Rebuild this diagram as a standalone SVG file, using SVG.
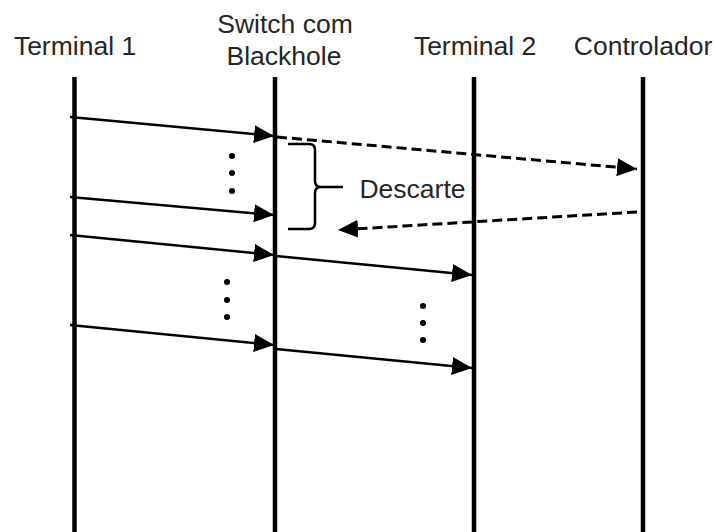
<svg xmlns="http://www.w3.org/2000/svg" width="716" height="532" viewBox="0 0 716 532">
<style>
.lbl{font-family:"Liberation Sans",Arial,sans-serif;font-size:26.5px;fill:#262626;text-anchor:middle}
.life{stroke:#000;stroke-width:4.5;fill:none}
.msg{stroke:#000;stroke-width:2.5;fill:none;marker-end:url(#ah)}
.dash{stroke:#000;stroke-width:3;fill:none;stroke-dasharray:10 5;marker-end:url(#ah)}
.dot{fill:#000}
</style>
<defs>
<marker id="ah" viewBox="0 0 20 18" markerWidth="20" markerHeight="18" markerUnits="userSpaceOnUse" refX="20" refY="9" orient="auto">
<path d="M0,0 L20,9 L0,18 z" fill="#000"/>
</marker>
</defs>
<rect width="716" height="532" fill="#fff"/>
<g id="terminal1">
<text class="lbl" x="75" y="55">Terminal 1</text>
<line class="life" x1="74.5" y1="77" x2="74.5" y2="532"/>
</g>
<g id="switch">
<text class="lbl" x="285" y="33">Switch com</text>
<text class="lbl" x="284" y="65">Blackhole</text>
<line class="life" x1="275" y1="77" x2="275" y2="532"/>
</g>
<g id="terminal2">
<text class="lbl" x="475" y="55">Terminal 2</text>
<line class="life" x1="474" y1="77" x2="474" y2="532"/>
</g>
<g id="controlador">
<text class="lbl" x="643" y="55">Controlador</text>
<line class="life" x1="643" y1="77" x2="643" y2="532"/>
</g>
<g id="connectors">
<line class="msg" x1="70" y1="117" x2="274" y2="136"/>
<line class="msg" x1="70" y1="197" x2="274" y2="215"/>
<line class="msg" x1="70" y1="235" x2="274" y2="255"/>
<line class="msg" x1="276" y1="256" x2="472" y2="275"/>
<line class="msg" x1="70" y1="325" x2="274" y2="345"/>
<line class="msg" x1="276" y1="349" x2="472" y2="368"/>
<line class="dash" x1="277" y1="137" x2="637" y2="169"/>
<line class="dash" x1="637" y1="212" x2="338" y2="230"/>
</g>
<g id="dots">
<circle class="dot" cx="232" cy="156" r="3"/>
<circle class="dot" cx="232" cy="173" r="3"/>
<circle class="dot" cx="232" cy="191" r="3"/>
<circle class="dot" cx="227" cy="282" r="3"/>
<circle class="dot" cx="227" cy="300" r="3"/>
<circle class="dot" cx="227" cy="317" r="3"/>
<circle class="dot" cx="423" cy="306" r="3"/>
<circle class="dot" cx="423" cy="323" r="3"/>
<circle class="dot" cx="423" cy="340" r="3"/>
</g>
<g id="descarte">
<path d="M288,144 L309,144 Q315,144 315,150 L315,181 Q315,187 321,187 L343,187 M321,187 Q315,187 315,193 L315,223 Q315,229 309,229 L288,229" fill="none" stroke="#000" stroke-width="2.5"/>
<text class="lbl" x="412.5" y="198">Descarte</text>
</g>
</svg>
